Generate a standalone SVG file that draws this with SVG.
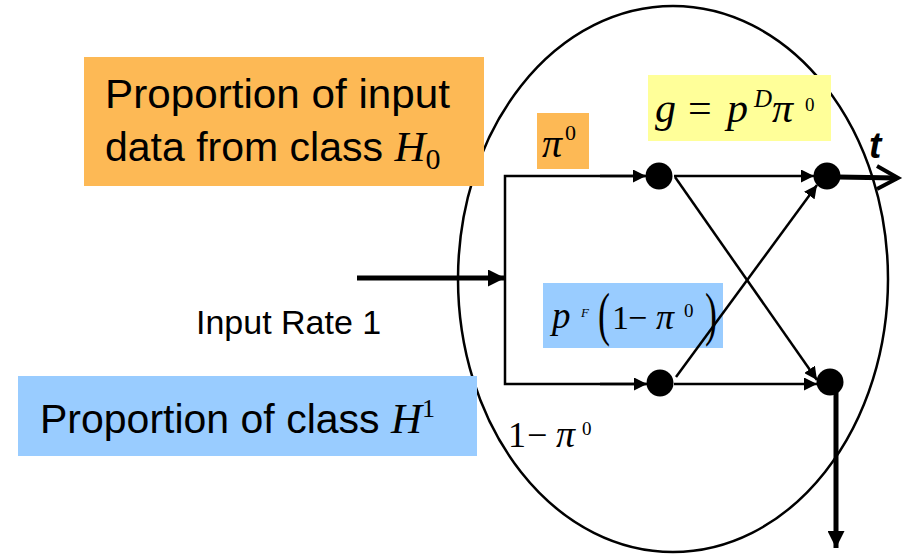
<svg xmlns="http://www.w3.org/2000/svg" width="906" height="554" viewBox="0 0 906 554">
<style>
.sans{font-family:"Liberation Sans",Arial,sans-serif;fill:#000}
.m{font-family:"Liberation Serif","Times New Roman",serif;fill:#000}
.i{font-style:italic}
.ln{stroke:#000;stroke-width:2.5;fill:none}
.thk{stroke:#000;stroke-width:5;fill:none}
.node{fill:#000}
</style>
<defs>
<marker id="ah" viewBox="0 0 10 10" refX="10" refY="5" markerWidth="5.2" markerHeight="5.2" markerUnits="strokeWidth" orient="auto">
<path d="M0,0 L10,5 L0,10 z" fill="#000"/>
</marker>
<marker id="ahb" viewBox="0 0 10 10" refX="10" refY="5" markerWidth="3.6" markerHeight="3.4" markerUnits="strokeWidth" orient="auto">
<path d="M0,0 L10,5 L0,10 z" fill="#000"/>
</marker>
</defs>
<rect width="906" height="554" fill="#fff"/>
<g id="boundary">
<ellipse cx="673" cy="279" rx="215" ry="273" fill="none" stroke="#000" stroke-width="2.5"/>
</g>
<g id="label-h0">
<rect x="84" y="57" width="400" height="129" fill="#FDB955"/>
<text class="sans" x="105" y="108" font-size="41" textLength="345" lengthAdjust="spacingAndGlyphs">Proportion of input</text>
<text class="sans" x="105" y="161" font-size="41">data from class <tspan class="m i" font-size="43">H</tspan><tspan class="m" font-size="30" dy="8">0</tspan></text>
</g>
<g id="label-h1">
<rect x="18" y="376" width="459" height="80" fill="#99CCFF"/>
<text class="sans" x="40" y="433" font-size="41">Proportion of class <tspan class="m i" font-size="43">H</tspan><tspan class="m" font-size="26" dy="-16">1</tspan></text>
</g>
<g id="label-input">
<text class="sans" x="196" y="334" font-size="34">Input Rate 1</text>
</g>
<g id="label-pi0">
<rect x="537" y="113" width="52" height="56" fill="#FDB955"/>
<text class="m i" x="542" y="157" font-size="40">π<tspan font-style="normal" font-size="22" dx="3" dy="-17">0</tspan></text>
</g>
<g id="label-g">
<rect x="648" y="75" width="183" height="66" fill="#FFFF99"/>
<text class="m i" x="655" y="122" font-size="42">g</text>
<text class="m" x="688" y="122" font-size="42">=</text>
<text class="m i" x="727" y="122" font-size="42">p</text>
<text class="m i" x="754" y="107" font-size="25">D</text>
<text class="m i" x="772" y="122" font-size="42">π</text>
<text class="m" x="805" y="111" font-size="19">0</text>
</g>
<g id="label-pf">
<rect x="543" y="283" width="180" height="65" fill="#99CCFF"/>
<text class="m i" x="552" y="328" font-size="37">p</text>
<text class="m i" x="581" y="317" font-size="13">F</text>
<text class="m" transform="translate(598,334) scale(1,1.65)" font-size="36">(</text>
<text class="m" x="612" y="329" font-size="34">1</text>
<text class="m" x="628" y="329" font-size="34">−</text>
<text class="m i" x="656" y="329" font-size="36">π</text>
<text class="m" x="684" y="317" font-size="19">0</text>
<text class="m" transform="translate(705,334) scale(1,1.65)" font-size="36">)</text>
</g>
<g id="label-1-pi0">
<text class="m" x="508" y="447" font-size="36">1</text>
<text class="m" x="527" y="447" font-size="36">−</text>
<text class="m i" x="556" y="447" font-size="38">π</text>
<text class="m" x="582" y="435" font-size="19">0</text>
</g>
<g id="label-t">
<text class="sans" x="869" y="158" font-size="37" font-weight="bold" font-style="italic">t</text>
</g>
<g id="n1"><circle class="node" cx="659" cy="176" r="13.5"/></g>
<g id="n2"><circle class="node" cx="827" cy="176" r="13.5"/></g>
<g id="n3"><circle class="node" cx="660" cy="383" r="13.5"/></g>
<g id="n4"><circle class="node" cx="830" cy="382" r="13.5"/></g>
<g id="connectors">
<line class="thk" x1="357" y1="278" x2="505" y2="278" marker-end="url(#ahb)"/>
<polyline class="ln" points="645,176 505,176 505,384 646,384"/>
<line class="ln" x1="600" y1="176" x2="646" y2="176" marker-end="url(#ah)"/>
<line class="ln" x1="600" y1="384" x2="647" y2="384" marker-end="url(#ah)"/>
<line class="ln" x1="674" y1="176" x2="814" y2="176" marker-end="url(#ah)"/>
<line class="ln" x1="675" y1="177" x2="817" y2="380" marker-end="url(#ah)"/>
<line class="ln" x1="676" y1="377" x2="817" y2="185" marker-end="url(#ah)"/>
<line class="ln" x1="674" y1="384" x2="817" y2="384" marker-end="url(#ah)"/>
<line class="thk" x1="836" y1="385" x2="836" y2="548" marker-end="url(#ahb)"/>
<line class="thk" x1="838" y1="177" x2="897" y2="178"/>
<polyline points="877,166 898,178 877,189" fill="none" stroke="#000" stroke-width="4"/>
</g>
</svg>
